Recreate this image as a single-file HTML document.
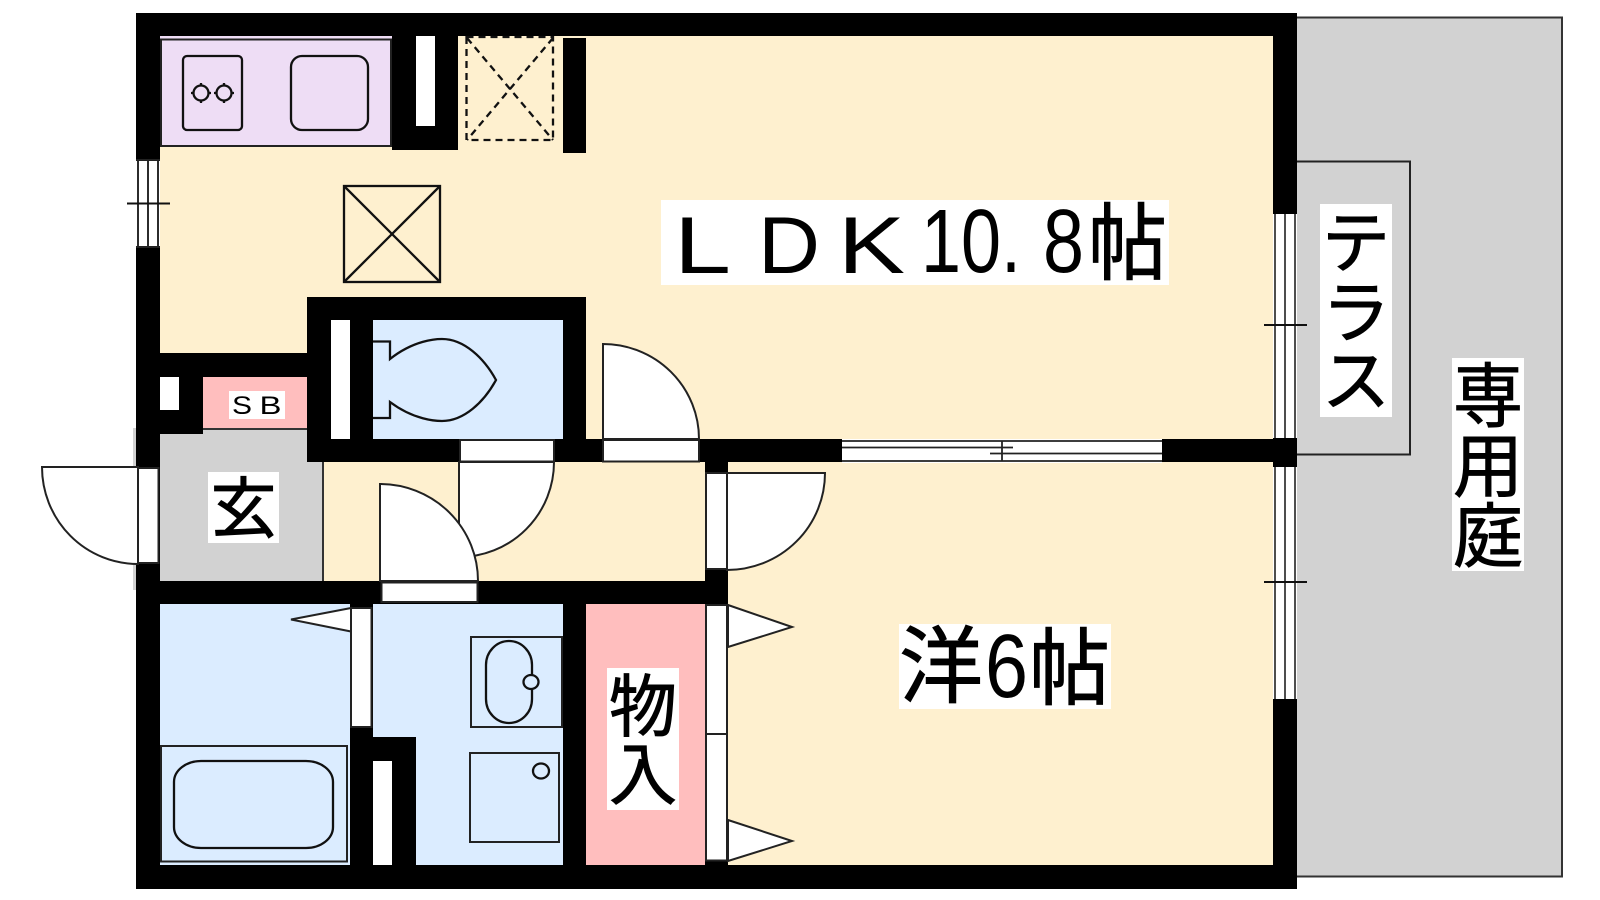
<!DOCTYPE html>
<html><head><meta charset="utf-8"><style>
html,body{margin:0;padding:0;background:#fff;width:1600px;height:900px;overflow:hidden}
svg{display:block}
.j{font-family:"Liberation Sans","Noto Sans CJK JP",sans-serif;fill:#000;stroke:#000;stroke-width:.9}
.l{font-family:"Liberation Sans",sans-serif;fill:#000}
.s{fill:none;stroke:#111;stroke-width:2.3}
.w{fill:#fff;stroke:#222;stroke-width:2}
</style></head><body>
<svg width="1600" height="900" viewBox="0 0 1600 900" xmlns="http://www.w3.org/2000/svg">
<rect width="1600" height="900" fill="#fff"/>
<!-- outside -->
<rect x="1290" y="17.5" width="272" height="859" fill="#d2d2d2" stroke="#333" stroke-width="2"/>
<rect x="1290" y="161.5" width="120" height="293" fill="#d2d2d2" stroke="#222" stroke-width="2"/>
<rect x="133" y="428" width="10" height="162" fill="#d2d2d2"/>
<!-- outer wall -->
<rect x="136" y="13" width="1161" height="876" fill="#000"/>
<!-- rooms -->
<rect x="160" y="36" width="1113" height="403" fill="#fef0cf"/>
<rect x="160" y="36" width="232" height="111" fill="#eeddf5"/>
<rect x="161" y="39.5" width="230" height="106.500" fill="#eeddf5" stroke="#222" stroke-width="2"/>
<rect x="728" y="462" width="545" height="403" fill="#fef0cf"/>
<rect x="323" y="462" width="382" height="119" fill="#fef0cf"/>
<rect x="160" y="430" width="163" height="151" fill="#d2d2d2"/>
<line x1="323" y1="462" x2="323" y2="581" stroke="#333" stroke-width="2"/>
<rect x="160" y="604" width="190" height="261" fill="#dbecff"/>
<rect x="373" y="604" width="190" height="261" fill="#dbecff"/>
<rect x="586" y="604" width="119" height="261" fill="#ffbebe"/>
<rect x="203" y="377" width="104" height="51" fill="#ffbebe"/>
<rect x="203" y="428" width="104" height="2" fill="#333"/>
<!-- internal walls -->
<rect x="392" y="13" width="66" height="137" fill="#000"/>
<rect x="416" y="36" width="19" height="90" fill="#fff"/>
<rect x="563" y="38" width="23" height="115" fill="#000"/>
<rect x="160" y="353" width="147" height="24" fill="#000"/>
<rect x="160" y="377" width="43" height="57" fill="#000"/>
<rect x="160" y="377" width="19" height="33" fill="#fff"/>
<rect x="307" y="297" width="279" height="165" fill="#000"/>
<rect x="373" y="320" width="190" height="119" fill="#dbecff"/>
<rect x="331" y="320" width="19" height="119" fill="#fff"/>
<rect x="307" y="439" width="990" height="23" fill="#000"/>
<rect x="136" y="581" width="592" height="23" fill="#000"/>
<rect x="705" y="462" width="23" height="403" fill="#000"/>
<rect x="350" y="604" width="23" height="261" fill="#000"/>
<rect x="373" y="737" width="43" height="128" fill="#000"/>
<rect x="373" y="761" width="19" height="104" fill="#fff"/>
<rect x="416" y="737" width="147" height="128" fill="#dbecff"/>
<rect x="563" y="604" width="23" height="261" fill="#000"/>
<!-- kitchen fixtures -->
<rect x="183" y="56" width="59" height="74" rx="4" class="s"/>
<rect x="291" y="56" width="77" height="74" rx="11" class="s"/>
<circle cx="201" cy="93" r="7.500" class="s"/>
<circle cx="224" cy="93" r="7.500" class="s"/>
<path d="M191 93h3M208 93h3M201 83v3M201 100v3M214 93h3M231 93h3M224 83v3M224 100v3" class="s"/>
<!-- dashed box -->
<g fill="none" stroke="#111" stroke-width="2.300" stroke-dasharray="7 5">
<rect x="466.500" y="37" width="86.500" height="103"/>
<line x1="467" y1="38" x2="553" y2="140"/>
<line x1="553" y1="38" x2="467" y2="140"/>
</g>
<!-- X box -->
<g fill="none" stroke="#111" stroke-width="2.300">
<rect x="344" y="186" width="96" height="96"/>
<line x1="344" y1="186" x2="440" y2="282"/>
<line x1="440" y1="186" x2="344" y2="282"/>
</g>
<!-- left window -->
<rect x="136" y="160" width="24" height="87" fill="#fff"/>
<path d="M138 160V247M148 160V247M158 160V247M136 160H160M136 247H160" stroke="#222" stroke-width="1.900" fill="none"/>
<line x1="127" y1="203.500" x2="170" y2="203.500" stroke="#111" stroke-width="2"/>
<!-- right windows -->
<rect x="1273" y="214" width="24" height="224" fill="#fff"/>
<path d="M1275 214V438M1285 214V438M1295 214V438" stroke="#222" stroke-width="1.600" fill="none"/>
<line x1="1264" y1="325" x2="1307" y2="325" stroke="#111" stroke-width="2"/>
<rect x="1273" y="467" width="24" height="232" fill="#fff"/>
<path d="M1275 467V699M1285 467V699M1295 467V699" stroke="#222" stroke-width="1.600" fill="none"/>
<line x1="1264" y1="582" x2="1307" y2="582" stroke="#111" stroke-width="2"/>
<!-- sliding window -->
<rect x="842" y="439" width="320" height="24" fill="#fff"/>
<path d="M842 441H1162M842 447.500H1013M990 453.500H1162M842 461H1162M1002 441V461" stroke="#222" stroke-width="1.800" fill="none"/>
<!-- door 1 LDK -->
<rect x="603" y="440" width="96" height="21.500" class="w"/>
<path d="M603 439V344A96 95 0 0 1 699 439Z" class="w"/>
<!-- door 2 toilet -->
<rect x="460" y="440" width="94" height="21.500" class="w"/>
<path d="M459 462V557A95 95 0 0 0 554 462Z" class="w"/>
<!-- door 3 wash -->
<rect x="381.500" y="582.500" width="96" height="19.500" class="w"/>
<path d="M380 581V484A98 97 0 0 1 478 581Z" class="w"/>
<!-- entry door -->
<rect x="138" y="468" width="20.500" height="95" class="w"/>
<path d="M138 467H42A96 97 0 0 0 138 564Z" class="w"/>
<!-- room door -->
<rect x="706" y="473" width="21" height="96" class="w"/>
<path d="M727 473H825A98 97 0 0 1 727 570Z" class="w"/>
<!-- closet doors -->
<rect x="706" y="605" width="21" height="255.500" class="w"/>
<line x1="706" y1="734" x2="727" y2="734" stroke="#222" stroke-width="2"/>
<path d="M728 605L792 627L728 647Z" class="w"/>
<path d="M728 820L792 841L728 861Z" class="w"/>
<!-- bath door -->
<rect x="351" y="608" width="20.500" height="119" class="w"/>
<path d="M351 608L291 619.500L351 631.500Z" class="w"/>
<!-- toilet -->
<path d="M373 341.500H390V359C414 340 436 339 442 339C464 339 484 358 496 380C484 402 464 421 442 421C436 421 414 420 390 402V418H373" class="s"/>
<!-- bath tub -->
<rect x="161" y="746" width="186" height="115.500" fill="none" stroke="#222" stroke-width="2"/>
<rect x="174" y="761" width="159" height="87" rx="27" ry="21" class="s"/>
<!-- basin -->
<rect x="471" y="637" width="91" height="90" fill="none" stroke="#222" stroke-width="2"/>
<rect x="486" y="641" width="46" height="82" rx="23" ry="24" class="s"/>
<ellipse cx="531" cy="682" rx="7.500" ry="7" fill="#dbecff" stroke="#111" stroke-width="2.300"/>
<!-- washer -->
<rect x="470" y="753" width="89" height="89" fill="none" stroke="#222" stroke-width="2"/>
<ellipse cx="541" cy="771" rx="8" ry="7.500" class="s"/>
<!-- label backgrounds -->
<rect x="661" y="200" width="508" height="85" fill="#fff"/>
<rect x="899" y="624" width="212" height="85" fill="#fff"/>
<rect x="607" y="668" width="72" height="142" fill="#fff"/>
<rect x="208" y="472" width="71" height="71" fill="#fff"/>
<rect x="229" y="391" width="56" height="28" fill="#fff"/>
<rect x="1320" y="204" width="72" height="213" fill="#fff"/>
<rect x="1452" y="358" width="72" height="213" fill="#fff"/>
<!-- labels -->
<text class="l" x="674" y="273" font-size="81" textLength="57" lengthAdjust="spacingAndGlyphs">L</text>
<text class="l" x="758" y="273" font-size="81" textLength="62" lengthAdjust="spacingAndGlyphs">D</text>
<text class="l" x="838" y="273" font-size="81" textLength="67" lengthAdjust="spacingAndGlyphs">K</text>
<text class="l" x="921" y="272" font-size="90" textLength="100" lengthAdjust="spacingAndGlyphs">10.</text>
<text class="l" x="1043" y="272" font-size="90" textLength="41" lengthAdjust="spacingAndGlyphs">8</text>
<text class="j" x="1088" y="273" font-size="84" textLength="79" lengthAdjust="spacingAndGlyphs">帖</text>
<text class="j" x="899" y="696" font-size="84" textLength="84" lengthAdjust="spacingAndGlyphs">洋</text>
<text class="l" x="985" y="697" font-size="90" textLength="43" lengthAdjust="spacingAndGlyphs">6</text>
<text class="j" x="1029" y="698" font-size="84" textLength="81" lengthAdjust="spacingAndGlyphs">帖</text>
<text class="j" x="643" y="731" font-size="68" text-anchor="middle">物</text>
<text class="j" x="643" y="799" font-size="68" text-anchor="middle">入</text>
<text class="j" x="243.500" y="532" font-size="66" text-anchor="middle" stroke-width="1.800">玄</text>
<text class="l" x="232" y="414" font-size="25" textLength="20" lengthAdjust="spacingAndGlyphs">S</text>
<text class="l" x="259.500" y="414" font-size="25" textLength="22" lengthAdjust="spacingAndGlyphs">B</text>
<text class="j" x="1356" y="267" font-size="68" text-anchor="middle">テ</text>
<text class="j" x="1356" y="337" font-size="68" text-anchor="middle">ラ</text>
<text class="j" x="1356" y="405" font-size="68" text-anchor="middle">ス</text>
<text class="j" x="1488" y="421" font-size="70" text-anchor="middle">専</text>
<text class="j" x="1488" y="491" font-size="70" text-anchor="middle">用</text>
<text class="j" x="1488" y="561" font-size="70" text-anchor="middle">庭</text>
</svg>
</body></html>
